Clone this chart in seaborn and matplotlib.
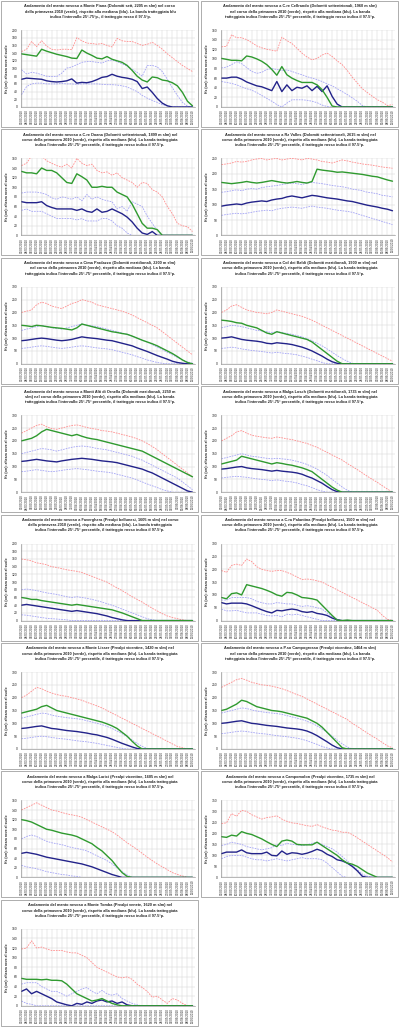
import numpy as np
import pandas as pd
import matplotlib
matplotlib.use("Agg")
import matplotlib.pyplot as plt
import seaborn as sns
from matplotlib.patches import Rectangle

# ---------------- data ----------------
tick_labels = [d.strftime("%d/%m/%Y") for d in pd.date_range("2010-03-01", periods=35, freq="3D")]

titles = [
    "Andamento del manto nevoso a Monte Piana (Dolomiti sett, 2205 m slm) nel corso\ndella primavera 2010 (verde), rispetto alla mediana (blu). La banda tratteggiata blu\nindica l'intervallo 25°-75°p., il tratteggio rosso il 97.5°p.",
    "Andamento del manto nevoso a C.re Cellrando (Dolomiti settentrionali, 1960 m slm)\nnel corso della primavera 2010 (verde), rispetto alla mediana (blu). La banda\ntratteggiata indica l'intervallo 25°-75° percentile, il tratteggio rosso indica il 97.5°p.",
    "Andamento del manto nevoso a C.re Doana (Dolomiti settentrionali, 1899 m slm) nel\ncorso della primavera 2010 (verde), rispetto alla mediana (blu). La banda tratteggiata\nindica l'intervallo 25°-75° percentile, il tratteggio rosso indica il 97.5°p.",
    "Andamento del manto nevoso a Rz Valles (Dolomiti settentrionali, 2615 m slm) nel\ncorso della primavera 2010 (verde), rispetto alla mediana (blu). La banda tratteggiata\nindica l'intervallo 25°-75° percentile, il tratteggio rosso indica il 97.5°p.",
    "Andamento del manto nevoso a Cima Pradazzo (Dolomiti meridionali, 2200 m slm)\nnel corso della primavera 2010 (verde), rispetto alla mediana (blu). La banda\ntratteggiata indica l'intervallo 25°-75° percentile, il tratteggio rosso indica il 97.5°p.",
    "Andamento del manto nevoso a Col dei Baldi (Dolomiti meridionali, 1900 m slm) nel\ncorso della primavera 2010 (verde), rispetto alla mediana (blu). La banda tratteggiata\nindica l'intervallo 25°-75° percentile, il tratteggio rosso indica il 97.5°p.",
    "Andamento del manto nevoso a Monti Alti di Ornella (Dolomiti meridionali, 2250 m\nslm) nel corso della primavera 2010 (verde), rispetto alla mediana (blu). La banda\ntratteggiata indica l'intervallo 25°-75° percentile, il tratteggio rosso indica il 97.5°p.",
    "Andamento del manto nevoso a Malga Losch (Dolomiti meridionali, 1735 m slm) nel\ncorso della primavera 2010 (verde), rispetto alla mediana (blu). La banda tratteggiata\nindica l'intervallo 25°-75° percentile, il tratteggio rosso indica il 97.5°p.",
    "Andamento del manto nevoso a Faverghera (Prealpi bellunesi, 1605 m slm) nel corso\ndella primavera 2010 (verde), rispetto alla mediana (blu). La banda tratteggiata\nindica l'intervallo 25°-75° percentile, il tratteggio rosso indica il 97.5°p.",
    "Andamento del manto nevoso a C.ra Palantina (Prealpi bellunesi, 1500 m slm) nel\ncorso della primavera 2010 (verde), rispetto alla mediana (blu). La banda tratteggiata\nindica l'intervallo 25°-75° percentile, il tratteggio rosso indica il 97.5°p.",
    "Andamento del manto nevoso a Monte Lisser (Prealpi vicentine, 1420 m slm) nel\ncorso della primavera 2010 (verde), rispetto alla mediana (blu). La banda tratteggiata\nindica l'intervallo 25°-75° percentile, il tratteggio rosso indica il 97.5°p.",
    "Andamento del manto nevoso a P.so Campogrosso (Prealpi vicentine, 1464 m slm)\nnel corso della primavera 2010 (verde), rispetto alla mediana (blu). La banda\ntratteggiata indica l'intervallo 25°-75° percentile, il tratteggio rosso indica il 97.5°p.",
    "Andamento del manto nevoso a Malga Larici (Prealpi vicentine, 1605 m slm) nel\ncorso della primavera 2010 (verde), rispetto alla mediana (blu). La banda tratteggiata\nindica l'intervallo 25°-75° percentile, il tratteggio rosso indica il 97.5°p.",
    "Andamento del manto nevoso a Campomolon (Prealpi vicentine, 1735 m slm) nel\ncorso della primavera 2010 (verde), rispetto alla mediana (blu). La banda tratteggiata\nindica l'intervallo 25°-75° percentile, il tratteggio rosso indica il 97.5°p.",
    "Andamento del manto nevoso a Monte Tomba (Prealpi venete, 1620 m slm) nel\ncorso della primavera 2010 (verde), rispetto alla mediana (blu). La banda tratteggiata\nindica l'intervallo 25°-75° percentile, il tratteggio rosso indica il 97.5°p.",
]

y_max = [200, 160, 160, 250, 300, 300, 300, 300, 200, 300, 300, 300, 160, 350, 160]
y_step = [20, 20, 20, 50, 50, 50, 50, 50, 20, 50, 50, 50, 20, 50, 20]

# 1 Monte Piana
piana_2010 = [138,136,134,132,150,145,141,137,134,131,127,126,148,140,134,127,125,131,124,120,116,108,95,80,70,65,78,76,70,68,63,55,38,15,3]
piana_med = [72,75,74,73,72,68,66,65,66,68,73,62,64,63,66,71,77,79,85,80,77,75,72,66,48,52,38,22,10,3,0,0,0,0,0]
piana_p75 = [97,86,90,88,84,80,79,79,88,101,104,110,116,118,118,116,114,120,122,118,112,106,98,90,80,108,108,104,92,72,50,30,12,2,0]
piana_p25 = [32,53,60,62,62,60,60,60,61,60,60,59,60,60,60,60,59,58,58,57,55,52,46,40,30,23,17,12,6,3,0,0,0,0,0]
piana_p975 = [144,150,170,157,172,158,150,148,150,150,149,180,172,166,165,163,165,160,156,178,172,170,170,165,160,163,168,160,150,138,128,118,108,100,92]

# 2 Cellrando
cell_2010 = [101,99,97,97,96,106,104,100,95,88,78,66,84,67,60,55,51,51,51,46,36,20,2,0,0,0,0,0,0,0,0,0,0,0,0]
cell_med = [60,60,62,62,58,52,48,44,42,38,34,53,32,46,34,41,39,44,34,43,32,44,22,6,0,0,0,0,0,0,0,0,0,0,0]
cell_p75 = [81,83,88,94,90,82,74,70,72,78,80,78,76,77,74,70,67,63,60,57,53,48,44,38,32,26,19,12,3,0,0,0,0,0,0]
cell_p25 = [53,51,49,46,42,38,35,30,24,18,12,5,0,8,15,15,15,14,12,9,4,1,0,0,0,0,0,0,0,0,0,0,0,0,0]
cell_p975 = [125,126,150,144,144,140,134,127,123,120,118,116,145,138,132,122,112,104,98,101,108,112,105,96,88,76,62,50,38,30,22,15,10,3,5]

# 3 Doana
doana_2010 = [133,130,130,128,140,135,135,130,120,110,108,128,122,115,100,100,102,100,100,90,85,80,65,45,25,15,15,12,0,0,0,0,0,0,0]
doana_med = [70,68,68,68,70,62,58,55,55,55,55,52,55,50,48,55,48,50,55,50,45,38,28,15,5,2,8,0,0,0,0,0,0,0,0]
doana_p75 = [88,90,90,90,88,85,78,75,80,78,75,80,72,85,75,80,75,72,70,55,60,50,70,65,60,40,25,10,0,0,0,0,0,0,0]
doana_p25 = [52,55,50,50,50,45,40,35,35,35,35,32,35,30,30,30,35,35,30,20,15,5,0,0,0,0,0,0,0,0,0,0,0,0,0]
doana_p975 = [145,150,165,168,165,155,150,145,142,148,140,160,150,145,148,135,130,132,125,130,120,115,110,100,110,108,95,90,80,60,45,25,20,18,8]

# 4 Rz Valles
valles_2010 = [172,170,168,170,172,175,172,170,172,175,178,175,172,170,172,175,172,170,175,215,212,210,208,205,206,204,202,200,198,195,192,190,185,180,176]
valles_med = [95,98,100,102,100,105,108,110,112,110,115,118,120,125,128,125,122,126,130,128,125,122,120,118,115,112,110,106,102,98,95,92,88,85,80]
valles_p75 = [140,142,145,148,145,150,152,150,155,158,160,162,165,168,170,168,165,170,172,170,168,165,162,160,158,155,150,148,145,140,138,135,130,128,125]
valles_p25 = [65,68,70,72,70,72,75,78,80,82,80,85,88,90,92,90,88,92,95,92,90,88,85,82,80,78,75,70,65,60,55,50,45,40,35]
valles_p975 = [230,232,235,240,238,240,245,248,250,245,248,250,245,248,250,248,245,250,248,245,240,238,235,240,245,242,238,235,232,230,228,225,222,220,218]

# 5 Cima Pradazzo
prad_2010 = [150,148,145,150,148,145,142,140,138,135,132,140,155,150,145,140,135,130,125,122,118,115,108,100,92,85,78,70,60,50,40,28,15,5,0]
prad_med = [90,92,95,98,100,98,95,92,90,92,95,100,105,102,100,98,95,92,90,85,80,75,70,62,55,48,40,32,25,18,10,5,2,0,0]
prad_p75 = [130,135,140,145,150,145,140,138,135,140,145,150,155,150,148,145,140,135,130,125,120,115,108,100,92,85,75,65,55,45,35,25,15,8,2]
prad_p25 = [60,62,65,68,70,68,65,62,60,62,65,68,70,68,65,62,60,58,55,50,45,40,35,28,22,15,10,5,2,0,0,0,0,0,0]
prad_p975 = [200,205,210,230,240,235,225,220,215,225,235,240,250,245,240,230,225,220,215,210,205,198,190,180,170,160,150,140,125,110,95,80,65,50,35]

# 6 Col dei Baldi
baldi_2010 = [170,168,165,160,158,150,145,140,130,120,115,125,120,115,110,105,100,95,85,70,55,40,25,10,0,0,0,0,0,0,0,0,0,0,0]
baldi_med = [100,102,105,100,95,92,90,88,85,80,78,82,80,78,75,70,65,58,50,40,30,18,8,2,0,0,0,0,0,0,0,0,0,0,0]
baldi_p75 = [140,145,150,148,145,140,135,130,128,125,122,125,122,118,115,110,105,98,90,80,70,58,45,32,20,10,2,0,0,0,0,0,0,0,0]
baldi_p25 = [60,62,65,62,58,55,52,50,48,45,42,45,42,40,38,35,30,25,18,12,5,0,0,0,0,0,0,0,0,0,0,0,0,0,0]
baldi_p975 = [200,210,225,230,220,210,205,200,198,195,200,210,205,200,195,190,185,178,170,160,150,140,130,120,110,100,90,80,70,60,50,40,30,20,10]

# 7 Monti Alti di Ornella
ornella_2010 = [200,205,210,220,235,245,240,235,230,225,220,225,218,212,208,205,200,195,190,185,180,175,170,165,160,150,140,130,120,110,100,90,80,70,60]
ornella_med = [120,122,125,128,125,122,120,118,122,125,128,130,132,130,128,125,122,120,118,115,110,105,100,95,90,82,75,65,55,45,35,25,15,5,0]
ornella_p75 = [150,155,160,165,170,168,165,160,165,170,175,178,180,178,175,170,168,165,160,155,150,145,140,132,125,115,105,95,85,75,65,55,40,25,10]
ornella_p25 = [80,82,85,88,85,82,80,82,85,88,90,92,90,88,85,82,80,78,75,70,65,60,55,48,40,32,25,18,10,5,0,0,0,0,0]
ornella_p975 = [230,240,250,260,265,255,248,245,250,255,260,262,258,252,248,245,240,238,235,230,225,220,215,208,200,190,178,165,150,135,120,105,90,75,60]

# 8 Malga Losch
losch_2010 = [110,115,120,125,140,135,130,125,120,115,110,115,112,108,105,100,95,88,80,65,50,35,20,8,0,0,0,0,0,0,0,0,0,0,0]
losch_med = [90,92,95,98,100,95,92,90,88,85,82,85,82,80,78,75,70,62,55,45,35,22,10,2,0,0,0,0,0,0,0,0,0,0,0]
losch_p75 = [130,135,140,145,150,145,140,138,135,132,130,132,130,128,125,120,115,108,100,90,78,65,50,35,20,8,0,0,0,0,0,0,0,0,0]
losch_p25 = [55,58,60,62,60,58,55,52,50,48,45,48,45,42,40,36,30,25,18,10,4,0,0,0,0,0,0,0,0,0,0,0,0,0,0]
losch_p975 = [200,210,220,235,240,230,222,218,215,212,210,215,212,208,205,200,195,190,182,175,165,155,145,135,125,112,100,88,75,62,50,38,25,12,0]

# 9 Faverghera
faver_2010 = [60,58,55,55,52,50,48,46,44,42,40,42,40,38,36,34,32,30,28,24,20,15,10,5,0,0,0,0,0,0,0,0,0,0,0]
faver_med = [40,42,40,38,36,34,32,30,28,26,24,26,24,22,20,18,15,12,8,5,2,0,0,0,0,0,0,0,0,0,0,0,0,0,0]
faver_p75 = [80,82,80,78,75,72,70,68,65,62,60,62,60,58,55,52,48,44,40,35,30,25,20,15,10,5,2,0,0,0,0,0,0,0,0]
faver_p25 = [15,14,12,10,8,6,5,4,3,2,0,0,0,0,0,0,0,0,0,0,0,0,0,0,0,0,0,0,0,0,0,0,0,0,0]
faver_p975 = [160,158,155,150,148,145,140,138,135,132,130,128,125,120,115,110,105,100,92,85,78,70,62,55,48,40,32,25,18,12,8,5,2,0,0]

# 10 Palantina
palan_2010 = [90,85,105,108,100,140,135,130,125,118,110,100,95,110,108,100,90,88,85,80,60,40,20,2,0,2,0,0,0,0,0,0,0,0,0]
palan_med = [70,65,68,68,68,65,58,50,42,35,30,40,38,42,45,42,35,32,35,28,25,20,10,3,0,0,0,0,0,0,0,0,0,0,0]
palan_p75 = [80,80,90,90,90,90,85,75,70,65,65,70,68,65,65,60,55,58,55,50,45,30,15,5,0,0,0,0,0,0,0,0,0,0,0]
palan_p25 = [45,38,38,40,35,30,30,30,25,20,18,20,15,25,22,25,20,15,10,5,0,0,0,0,0,0,0,0,0,0,0,0,0,0,0]
palan_p975 = [195,188,215,220,215,240,230,210,200,195,192,195,195,188,180,170,160,162,160,155,150,140,130,120,110,100,90,80,70,60,50,40,20,5,0]

# 11 Monte Lisser
lisser_2010 = [140,145,150,155,165,170,160,150,145,140,135,130,125,120,115,110,105,98,90,80,65,50,30,12,0,0,0,0,0,0,0,0,0,0,0]
lisser_med = [80,82,85,88,90,85,80,78,75,72,70,68,65,62,58,55,50,45,38,30,22,15,8,2,0,0,0,0,0,0,0,0,0,0,0]
lisser_p75 = [120,125,130,135,140,138,132,128,125,122,120,118,115,110,105,100,95,88,80,70,60,48,35,22,10,2,0,0,0,0,0,0,0,0,0]
lisser_p25 = [40,42,45,48,50,48,45,42,40,38,35,32,30,28,25,22,18,14,10,6,2,0,0,0,0,0,0,0,0,0,0,0,0,0,0]
lisser_p975 = [200,210,225,240,235,225,218,212,208,205,200,195,190,182,175,168,160,150,140,130,120,110,100,90,80,70,60,50,40,30,20,10,5,0,0]

# 12 Campogrosso
campog_2010 = [150,155,165,175,190,185,175,165,160,155,150,148,145,140,135,130,125,120,110,100,85,65,45,25,5,0,0,0,0,0,0,0,0,0,0]
campog_med = [100,102,105,108,110,105,100,98,95,92,90,88,85,82,80,78,75,70,62,52,40,28,15,5,0,0,0,0,0,0,0,0,0,0,0]
campog_p75 = [140,145,150,155,160,158,152,148,145,142,140,138,135,130,125,120,115,108,100,90,78,65,50,35,20,8,0,0,0,0,0,0,0,0,0]
campog_p25 = [60,62,65,68,70,68,65,62,60,58,55,52,50,48,45,42,38,32,25,18,10,4,0,0,0,0,0,0,0,0,0,0,0,0,0]
campog_p975 = [240,250,260,270,275,268,260,255,250,248,245,240,235,228,220,212,205,195,185,175,165,155,145,135,125,115,100,88,75,62,50,38,25,12,5]

# 13 Malga Larici
larici_2010 = [120,118,115,110,105,100,98,95,92,90,88,85,80,75,70,62,55,45,35,22,10,2,0,0,0,0,0,0,0,0,0,0,0,0,0]
larici_med = [50,52,50,48,45,42,40,38,36,34,32,30,28,25,22,18,14,10,6,3,0,0,0,0,0,0,0,0,0,0,0,0,0,0,0]
larici_p75 = [80,85,88,85,80,75,72,70,68,65,62,60,58,55,50,45,40,35,28,20,12,5,0,0,0,0,0,0,0,0,0,0,0,0,0]
larici_p25 = [25,22,20,18,15,12,10,8,6,5,3,2,0,0,0,0,0,0,0,0,0,0,0,0,0,0,0,0,0,0,0,0,0,0,0]
larici_p975 = [140,145,150,155,150,145,140,138,135,132,130,128,125,120,115,110,105,100,95,88,80,72,65,58,50,42,35,28,22,16,10,6,3,0,0]

# 14 Campomolon
molon_2010 = [185,182,192,188,208,200,195,185,175,162,150,140,165,170,165,150,148,148,148,160,145,130,115,100,80,65,60,50,35,20,10,0,0,0,0]
molon_med = [108,115,115,115,125,112,108,108,108,115,100,98,120,105,112,110,105,110,118,128,120,105,95,80,75,65,50,30,5,0,0,0,0,0,0]
molon_p75 = [145,150,160,155,150,140,135,130,125,130,135,150,145,155,150,148,145,148,155,160,150,140,130,115,95,75,55,35,15,5,0,0,0,0,0]
molon_p25 = [85,95,100,100,100,92,85,80,80,75,80,85,80,75,80,85,90,85,85,85,80,65,45,25,5,0,0,0,0,0,0,0,0,0,0]
molon_p975 = [245,248,290,278,305,300,285,275,265,272,275,280,265,255,248,245,240,235,232,240,230,222,215,212,205,205,195,180,165,150,135,120,105,90,70]

# 15 Monte Tomba
tomba_2010 = [57,55,55,55,54,55,53,53,52,45,35,25,20,15,10,12,15,10,5,2,0,0,0,0,0,0,0,0,0,0,0,0,0,0,0]
tomba_med = [30,35,25,30,25,20,15,8,5,2,0,5,3,8,5,10,12,8,10,5,8,2,0,0,0,0,0,0,0,0,0,0,0,0,0]
tomba_p75 = [45,48,48,48,40,35,30,30,25,20,25,30,35,38,30,25,32,25,22,25,15,10,5,2,0,0,0,0,0,0,0,0,0,0,0]
tomba_p25 = [10,5,3,0,0,0,0,0,0,0,0,0,0,0,0,0,0,0,0,0,0,0,0,0,0,0,0,0,0,0,0,0,0,0,0]
tomba_p975 = [118,120,135,120,122,118,115,115,115,112,110,110,105,100,90,80,75,70,65,60,58,60,55,45,38,30,18,20,12,5,15,12,5,0,0]

stations = [
    (piana_2010, piana_med, piana_p75, piana_p25, piana_p975),
    (cell_2010, cell_med, cell_p75, cell_p25, cell_p975),
    (doana_2010, doana_med, doana_p75, doana_p25, doana_p975),
    (valles_2010, valles_med, valles_p75, valles_p25, valles_p975),
    (prad_2010, prad_med, prad_p75, prad_p25, prad_p975),
    (baldi_2010, baldi_med, baldi_p75, baldi_p25, baldi_p975),
    (ornella_2010, ornella_med, ornella_p75, ornella_p25, ornella_p975),
    (losch_2010, losch_med, losch_p75, losch_p25, losch_p975),
    (faver_2010, faver_med, faver_p75, faver_p25, faver_p975),
    (palan_2010, palan_med, palan_p75, palan_p25, palan_p975),
    (lisser_2010, lisser_med, lisser_p75, lisser_p25, lisser_p975),
    (campog_2010, campog_med, campog_p75, campog_p25, campog_p975),
    (larici_2010, larici_med, larici_p75, larici_p25, larici_p975),
    (molon_2010, molon_med, molon_p75, molon_p25, molon_p975),
    (tomba_2010, tomba_med, tomba_p75, tomba_p25, tomba_p975),
]

# ---------------- drawing ----------------
sns.set_theme(style="white")
plt.rcParams['font.family'] = ['Liberation Sans', 'DejaVu Sans']

W, H = 400, 1030
ROW = 128.4
fig = plt.figure(figsize=(W / 100, H / 100), dpi=100)
fig.patch.set_facecolor("white")

def fx(px):
    return px / W

def fy(py):
    return 1 - py / H

GREEN = "#2f9a2f"
NAVY = "#23238a"
LBLUE = "#a3a3f5"
RED = "#ff8c8c"

for i, (cur, med, p75, p25, p975) in enumerate(stations):
    col, row = i % 2, i // 2
    x0 = col * 200
    y0 = row * ROW
    fig.patches.append(Rectangle((fx(x0 + 1), fy(y0 + ROW - 1.5)), 197 / W, (ROW - 2.5) / H,
                                 transform=fig.transFigure, fill=False, ec="#a0a0a0", lw=0.6))
    ax = fig.add_axes([fx(x0 + 20.5), fy(y0 + 107), 174 / W, 77 / H])
    xs = np.arange(len(tick_labels))
    df = pd.DataFrame({"x": xs, "cur": cur, "med": med, "p75": p75, "p25": p25, "p975": p975})
    sns.lineplot(data=df, x="x", y="p975", ax=ax, color=RED, lw=0.6, linestyle=(0, (2, 1.2)))
    sns.lineplot(data=df, x="x", y="p75", ax=ax, color=LBLUE, lw=0.6, linestyle=(0, (2, 1.2)))
    sns.lineplot(data=df, x="x", y="p25", ax=ax, color=LBLUE, lw=0.6, linestyle=(0, (2, 1.2)))
    sns.lineplot(data=df, x="x", y="med", ax=ax, color=NAVY, lw=1.0)
    sns.lineplot(data=df, x="x", y="cur", ax=ax, color=GREEN, lw=1.0)

    ax.set_xlim(-0.2, len(tick_labels) - 0.6)
    ax.set_ylim(0, y_max[i])
    ax.set_yticks(np.arange(0, y_max[i] + 1, y_step[i]))
    ax.set_xticks(xs)
    ax.set_xticklabels(tick_labels, rotation=90, fontsize=2.2)
    ax.tick_params(axis="y", labelsize=2.4, length=1, width=0.3, pad=1)
    ax.tick_params(axis="x", length=1, width=0.3, pad=0.8)
    ax.grid(True, color="#d4d4d4", lw=0.35)
    ax.set_axisbelow(True)
    for s in ["top", "right"]:
        ax.spines[s].set_visible(False)
    for s in ["left", "bottom"]:
        ax.spines[s].set_color("#808080")
        ax.spines[s].set_linewidth(0.4)
    ax.set_xlabel("")
    ax.set_ylabel("Hs (cm): altezza neve al suolo", fontsize=2.4, fontweight="bold", labelpad=2)
    fig.text(fx(x0 + 100), fy(y0 + 4.5), titles[i], ha="center", va="top",
             fontsize=2.75, fontweight="bold", linespacing=1.4)

fig.savefig("out.png", dpi=100, facecolor="white")
